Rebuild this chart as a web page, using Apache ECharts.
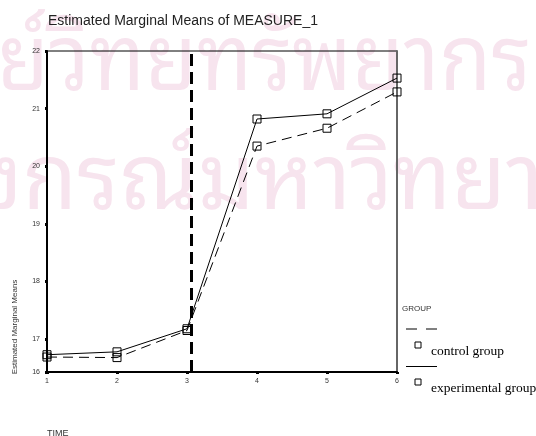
<!DOCTYPE html>
<html>
<head>
<meta charset="utf-8">
<script src="https://cdn.jsdelivr.net/npm/echarts@6/dist/echarts.min.js"></script>
<style>
  html, body { margin: 0; padding: 0; background: #fff; }
  #chart { width: 536px; height: 436px; }
</style>
</head>
<body>
<div id="chart"></div>
<script>
// Repeated-measures profile: estimated marginal means per time point
const timePoints = [1, 2, 3, 4, 5, 6];
const controlGroup = [16.69, 16.68, 17.15, 20.35, 20.66, 21.29];
const experimentalGroup = [16.73, 16.78, 17.18, 20.82, 20.91, 21.53];

// Y axis: bottom of the scale is labelled "16" though it sits near 16.43
const yTickValues = [16.43, 17, 18, 19, 20, 21, 22];
const yTickLabels = ['16', '17', '18', '19', '20', '21', '22'];
const yMin = 16.43;
const yMax = 22;

// Intervention marker between sessions 3 and 4
const interventionAt = 3.06;

const watermarkRows = ['ย์วิทยทรัพยากร', 'งกรณ์มหาวิทยาลัย'];

const chart = echarts.init(document.getElementById('chart'), null, { renderer: 'canvas' });

const pairs = (ys) => timePoints.map((t, i) => [t, ys[i]]);
const thaiFont = '"Noto Sans Thai Looped", "Noto Serif Thai", "Noto Sans Thai", Loma, Garuda, Tahoma, "Noto Sans", sans-serif';
const sans = 'Arial, "Liberation Sans", Helvetica, sans-serif';
const serif = '"Times New Roman", "Liberation Serif", serif';

const option = {
  backgroundColor: '#ffffff',
  animation: false,
  grid: {
    left: 47, right: 139, top: 51, bottom: 64,
    show: true, borderColor: '#000', borderWidth: 1
  },
  xAxis: {
    type: 'value', min: 1, max: 6, interval: 1,
    splitLine: { show: false },
    axisLine: { lineStyle: { color: '#000', width: 2 } },
    axisTick: { show: true, length: 2, lineStyle: { color: '#000', width: 3 } },
    axisLabel: { fontSize: 7, color: '#333', margin: 6, fontFamily: sans }
  },
  yAxis: [{
    type: 'value', min: yMin, max: yMax,
    splitLine: { show: false },
    axisLine: { show: true, lineStyle: { color: '#000', width: 2 } },
    axisTick: { show: true, length: 2, customValues: yTickValues, lineStyle: { color: '#000', width: 3 } },
    axisLabel: {
      fontSize: 7, color: '#333', margin: 7, fontFamily: sans,
      customValues: yTickValues,
      formatter: (v) => {
        const i = yTickValues.findIndex((t) => Math.abs(t - v) < 1e-6);
        return i >= 0 ? yTickLabels[i] : '';
      }
    }
  }, {
    type: 'value', min: yMin, max: yMax, position: 'right',
    splitLine: { show: false },
    axisLine: { show: true, lineStyle: { color: '#666', width: 2 } },
    axisTick: { show: false }, axisLabel: { show: false }
  }],
  graphic: [
    // faint library watermark behind the plot
    { type: 'text', z: -10, x: -3, y: 18, scaleX: 0.92, silent: true,
      style: { text: watermarkRows[0], font: '92px ' + thaiFont, fill: '#f7e4ee' } },
    { type: 'text', z: -10, x: -24, y: 137, scaleX: 0.97, silent: true,
      style: { text: watermarkRows[1], font: '92px ' + thaiFont, fill: '#f7e4ee' } },
    { type: 'text', left: 48, top: 14,
      style: { text: 'Estimated Marginal Means of MEASURE_1', font: '14px ' + sans, fill: '#222' } },
    { type: 'text', x: 15, y: 327, rotation: Math.PI / 2,
      style: { text: 'Estimated Marginal Means', font: '8px ' + sans, fill: '#333',
               align: 'center', verticalAlign: 'middle' } },
    { type: 'text', left: 47, top: 429,
      style: { text: 'TIME', font: '9px ' + sans, fill: '#333' } },
    // legend block
    { type: 'text', left: 402, top: 305,
      style: { text: 'GROUP', font: '8px ' + sans, fill: '#333' } },
    { type: 'line', shape: { x1: 406, y1: 329, x2: 437, y2: 329 },
      style: { stroke: '#000', lineWidth: 1, lineDash: [11, 9] } },
    { type: 'rect', shape: { x: 415, y: 342, width: 6, height: 6 },
      style: { fill: 'none', stroke: '#000', lineWidth: 1 } },
    { type: 'text', left: 431, top: 344,
      style: { text: 'control group', font: '13.5px ' + serif, fill: '#000' } },
    { type: 'line', shape: { x1: 406, y1: 366.5, x2: 437, y2: 366.5 },
      style: { stroke: '#000', lineWidth: 1 } },
    { type: 'rect', shape: { x: 415, y: 379, width: 6, height: 6 },
      style: { fill: 'none', stroke: '#000', lineWidth: 1 } },
    { type: 'text', left: 431, top: 381,
      style: { text: 'experimental group', font: '13.5px ' + serif, fill: '#000' } }
  ],
  series: [
    {
      name: 'control group', type: 'line', data: pairs(controlGroup),
      symbol: 'rect', symbolSize: 8, showSymbol: true,
      lineStyle: { color: '#000', width: 1, type: [10, 6] },
      itemStyle: { color: 'rgba(0,0,0,0)', borderColor: '#000', borderWidth: 1 },
      markLine: {
        silent: true, symbol: 'none', label: { show: false },
        lineStyle: { color: '#000', width: 3, type: [12, 6] },
        data: [{ xAxis: interventionAt }]
      }
    },
    {
      name: 'experimental group', type: 'line', data: pairs(experimentalGroup),
      symbol: 'rect', symbolSize: 8, showSymbol: true,
      lineStyle: { color: '#000', width: 1, type: 'solid' },
      itemStyle: { color: 'rgba(0,0,0,0)', borderColor: '#000', borderWidth: 1 }
    }
  ]
};

chart.setOption(option);
</script>
</body>
</html>
